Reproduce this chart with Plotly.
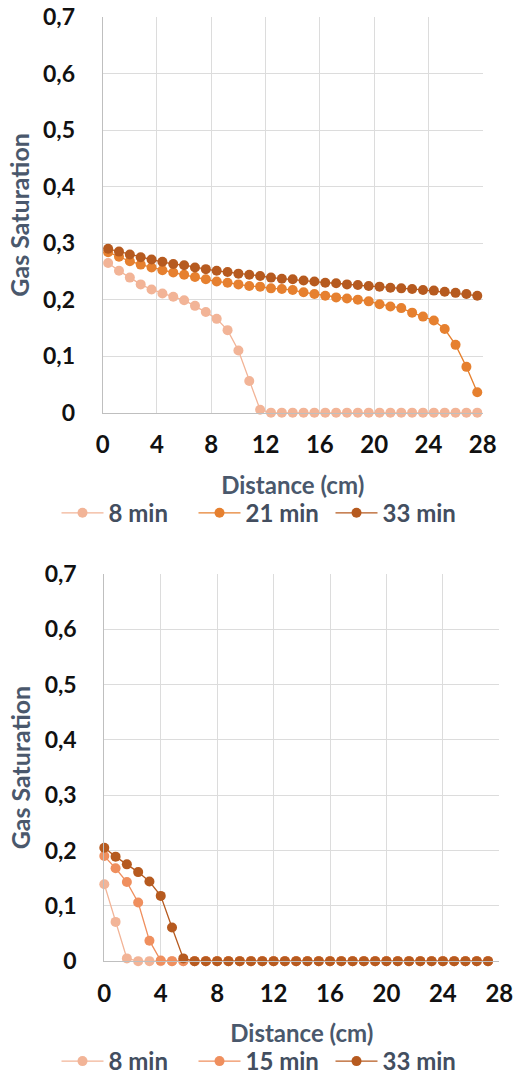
import plotly.graph_objects as go

# ---------------- data ----------------
dist_top = [0.4, 1.2, 2.0, 2.8, 3.6, 4.4, 5.2, 6.0, 6.8, 7.6, 8.4, 9.2, 10.0, 10.8, 11.6,
            12.4, 13.2, 14.0, 14.8, 15.6, 16.4, 17.2, 18.0, 18.8, 19.6, 20.4, 21.2, 22.0,
            22.8, 23.6, 24.4, 25.2, 26.0, 26.8, 27.6]
top_8min = [0.265, 0.251, 0.239, 0.227, 0.218, 0.211, 0.205, 0.199, 0.189, 0.178, 0.166,
            0.146, 0.110, 0.056, 0.005, 0.0, 0.0, 0.0, 0.0, 0.0, 0.0, 0.0, 0.0, 0.0, 0.0,
            0.0, 0.0, 0.0, 0.0, 0.0, 0.0, 0.0, 0.0, 0.0, 0.0]
top_21min = [0.284, 0.276, 0.268, 0.262, 0.257, 0.252, 0.248, 0.244, 0.240, 0.236, 0.232,
             0.230, 0.227, 0.224, 0.223, 0.220, 0.219, 0.217, 0.213, 0.210, 0.207, 0.204,
             0.202, 0.200, 0.197, 0.192, 0.188, 0.185, 0.177, 0.170, 0.163, 0.148, 0.120,
             0.081, 0.036]
top_33min = [0.290, 0.285, 0.280, 0.275, 0.271, 0.267, 0.263, 0.261, 0.257, 0.254, 0.251,
             0.249, 0.246, 0.244, 0.242, 0.239, 0.237, 0.236, 0.234, 0.232, 0.230, 0.229,
             0.227, 0.226, 0.224, 0.223, 0.221, 0.220, 0.219, 0.217, 0.216, 0.214, 0.212,
             0.210, 0.207]

dist_bot = [0.0, 0.8, 1.6, 2.4, 3.2, 4.0, 4.8, 5.6, 6.4, 7.2, 8.0, 8.8, 9.6, 10.4, 11.2,
            12.0, 12.8, 13.6, 14.4, 15.2, 16.0, 16.8, 17.6, 18.4, 19.2, 20.0, 20.8, 21.6,
            22.4, 23.2, 24.0, 24.8, 25.6, 26.4, 27.2]
bot_8min = [0.139, 0.071, 0.005, 0.0, 0.0, 0.0, 0.0, 0.0, 0.0, 0.0, 0.0, 0.0, 0.0, 0.0, 0.0,
            0.0, 0.0, 0.0, 0.0, 0.0, 0.0, 0.0, 0.0, 0.0, 0.0, 0.0, 0.0, 0.0, 0.0, 0.0, 0.0,
            0.0, 0.0, 0.0, 0.0]
bot_15min = [0.190, 0.168, 0.143, 0.106, 0.037, 0.001, 0.0, 0.0, 0.0, 0.0, 0.0, 0.0, 0.0,
             0.0, 0.0, 0.0, 0.0, 0.0, 0.0, 0.0, 0.0, 0.0, 0.0, 0.0, 0.0, 0.0, 0.0, 0.0, 0.0,
             0.0, 0.0, 0.0, 0.0, 0.0, 0.0]
bot_33min = [0.205, 0.189, 0.175, 0.161, 0.144, 0.118, 0.061, 0.005, 0.0, 0.0, 0.0, 0.0,
             0.0, 0.0, 0.0, 0.0, 0.0, 0.0, 0.0, 0.0, 0.0, 0.0, 0.0, 0.0, 0.0, 0.0, 0.0, 0.0,
             0.0, 0.0, 0.0, 0.0, 0.0, 0.0, 0.0]

x_ticks = [0, 4, 8, 12, 16, 20, 24, 28]
x_ticktext = ["0", "4", "8", "12", "16", "20", "24", "28"]
y_ticks = [0, 0.1, 0.2, 0.3, 0.4, 0.5, 0.6, 0.7]
y_ticktext = ["0", "0,1", "0,2", "0,3", "0,4", "0,5", "0,6", "0,7"]

top_names = ["8 min", "21 min", "33 min"]
bot_names = ["8 min", "15 min", "33 min"]

# ---------------- style ----------------
W, H = 517, 1084
FONT = "Lato"
C_LIGHT = "#F2B497"
C_MID_TOP = "#E6802F"
C_MID_BOT = "#EF8F5E"
C_DARK = "#B65A1F"
TICK_COLOR = "#111111"
TITLE_COLOR = "#4A586C"
LEG_COLOR = "#434E5F"
GRID = "#DCDCDC"
AXLINE = "#BFBFBF"

fig = go.Figure()

def add(x, y, name, color, xa, ya, legend):
    fig.add_trace(go.Scatter(
        x=x, y=y, name=name, mode="lines+markers",
        line=dict(color=color, width=1.3),
        marker=dict(color=color, size=10, line=dict(width=0)),
        xaxis=xa, yaxis=ya, legend=legend, cliponaxis=False,
    ))

add(dist_top, top_8min, top_names[0], C_LIGHT, "x", "y", "legend")
add(dist_top, top_21min, top_names[1], C_MID_TOP, "x", "y", "legend")
add(dist_top, top_33min, top_names[2], C_DARK, "x", "y", "legend")
add(dist_bot, bot_8min, bot_names[0], C_LIGHT, "x2", "y2", "legend2")
add(dist_bot, bot_15min, bot_names[1], C_MID_BOT, "x2", "y2", "legend2")
add(dist_bot, bot_33min, bot_names[2], C_DARK, "x2", "y2", "legend2")

def px_x(v):
    return v / W

def px_y(v):
    return 1 - v / H

xcommon = dict(range=[0, 28], tickmode="array", tickvals=x_ticks, ticktext=x_ticktext,
               showgrid=True, gridcolor=GRID, gridwidth=1, zeroline=False,
               showline=True, linecolor=AXLINE, linewidth=1, ticks="",
               ticklabelstandoff=11,
               tickfont=dict(family=FONT, size=24, color=TICK_COLOR, weight="bold"),
               automargin=False)
ycommon = dict(range=[0, 0.7], tickmode="array", tickvals=y_ticks, ticktext=y_ticktext,
               showgrid=True, gridcolor=GRID, gridwidth=1, zeroline=False,
               showline=True, linecolor=AXLINE, linewidth=1, ticks="",
               ticklabelstandoff=22,
               tickfont=dict(family=FONT, size=23, color=TICK_COLOR, weight="bold"),
               automargin=False)

xtitle_font = dict(family=FONT, size=24, color=TITLE_COLOR, weight="bold")
ytitle_font = dict(family=FONT, size=25, color=TITLE_COLOR, weight="bold")
leg_font = dict(family=FONT, size=24, color=LEG_COLOR, weight="bold")

fig.update_layout(
    width=W, height=H, margin=dict(l=0, r=0, t=0, b=0),
    paper_bgcolor="white", plot_bgcolor="white",
    showlegend=True,
    xaxis=dict(domain=[px_x(102.7), px_x(482.7)], anchor="y",
               title=dict(text="Distance (cm)", standoff=19, font=xtitle_font),
               **xcommon),
    yaxis=dict(domain=[px_y(415.7), px_y(17.3)], anchor="x",
               title=dict(text="Gas Saturation", standoff=6, font=ytitle_font),
               **ycommon),
    xaxis2=dict(domain=[px_x(104.3), px_x(499.3)], anchor="y2",
                title=dict(text="Distance (cm)", standoff=19, font=xtitle_font),
                **xcommon),
    yaxis2=dict(domain=[px_y(968.3), px_y(578.3)], anchor="x2",
                title=dict(text="Gas Saturation", standoff=6, font=ytitle_font),
                **ycommon),
    legend=dict(orientation="h", x=px_x(262), xanchor="center", y=px_y(517), yanchor="middle",
                font=leg_font, itemwidth=42, entrywidth=80, entrywidthmode="pixels",
                bgcolor="rgba(0,0,0,0)"),
    legend2=dict(orientation="h", x=px_x(262), xanchor="center", y=px_y(1069.5), yanchor="middle",
                 font=leg_font, itemwidth=42, entrywidth=80, entrywidthmode="pixels",
                 bgcolor="rgba(0,0,0,0)"),
)

fig.write_html("out.html")
